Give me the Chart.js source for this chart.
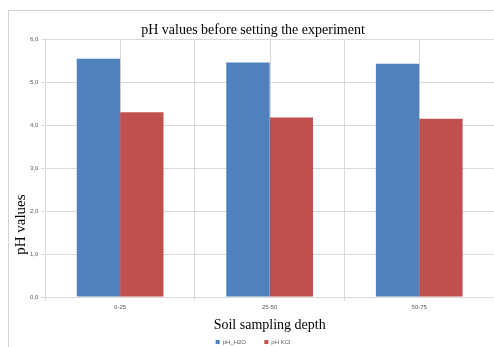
<!DOCTYPE html>
<html>
<head>
<meta charset="utf-8">
<script src="https://cdn.jsdelivr.net/npm/chart.js@4"></script>
<style>
    html, body { margin: 0; padding: 0; background: #fff; }
    #wrap { position: relative; width: 494px; height: 347px; }
    #frame { position: absolute; left: 8px; top: 10px; right: -2px; bottom: -2px;
             border-left: 1px solid #d4d4d4; border-top: 1px solid #d4d4d4; }
    canvas { position: absolute; left: 0; top: 0; }
</style>
</head>
<body>
<div id="wrap">
    <div id="frame"></div>
    <canvas id="phChart" width="494" height="347"></canvas>
</div>
<script>
// Chart data
const depths = ["0-25", "25-50", "50-75"];
const phH2O = [5.56, 5.47, 5.44];
const phKCl = [4.31, 4.19, 4.16];
const yTicks = [0, 1, 2, 3, 4, 5, 6];

const gridColor = "#d9d9d9";
const tickColor = "#595959";

// extra vertical gridlines through the middle of each category (behind the bars)
const centreLines = {
    id: "centreLines",
    beforeDatasetsDraw(chart) {
        const { ctx, chartArea, scales } = chart;
        ctx.save();
        ctx.strokeStyle = gridColor;
        ctx.lineWidth = 1;
        depths.forEach((d, i) => {
            const x = Math.round(scales.x.getPixelForValue(i)) + 0.5;
            ctx.beginPath();
            ctx.moveTo(x, chartArea.top);
            ctx.lineTo(x, chartArea.bottom);
            ctx.stroke();
        });
        ctx.restore();
    },
};

const ctx = document.getElementById("phChart").getContext("2d");
new Chart(ctx, {
    type: "bar",
    data: {
        labels: depths,
        datasets: [
            { label: "pH_H2O", data: phH2O, backgroundColor: "#4F81BD" },
            { label: "pH KCl", data: phKCl, backgroundColor: "#C0504D" },
        ],
    },
    plugins: [centreLines],
    options: {
        responsive: false,
        animation: false,
        layout: { padding: { left: 12, right: 0, top: 22, bottom: -8 } },
        datasets: { bar: { categoryPercentage: 0.58, barPercentage: 1 } },
        plugins: {
            title: {
                display: true,
                text: "pH values before setting the experiment",
                color: "#000",
                font: { family: "Liberation Serif", size: 14, weight: "normal" },
                padding: { top: 0, bottom: 1 },
            },
            legend: {
                position: "bottom",
                labels: {
                    boxWidth: 4,
                    boxHeight: 4,
                    padding: 5,
                    color: tickColor,
                    font: { family: "Liberation Sans", size: 6 },
                    // wider gap between the two entries, as in the original
                    generateLabels: (chart) => {
                        const items = Chart.defaults.plugins.legend.labels.generateLabels(chart);
                        items.forEach((it, i) => {
                            if (i < items.length - 1) it.text += "        ";
                        });
                        return items;
                    },
                },
            },
            tooltip: { enabled: false },
        },
        scales: {
            x: {
                grid: { color: gridColor, offset: true, tickLength: 4 },
                border: { color: gridColor },
                ticks: { color: tickColor, font: { family: "Liberation Sans", size: 6 }, padding: 3 },
                title: {
                    display: true,
                    text: "Soil sampling depth",
                    color: "#000",
                    font: { family: "Liberation Serif", size: 14 },
                    padding: { top: 3, bottom: 0 },
                },
            },
            y: {
                min: 0,
                max: 6,
                afterBuildTicks: (axis) => {
                    axis.ticks = yTicks.map((v) => ({ value: v }));
                },
                grid: { color: gridColor, tickLength: 4 },
                border: { color: gridColor },
                ticks: {
                    color: tickColor,
                    font: { family: "Liberation Sans", size: 6 },
                    padding: 3,
                    callback: (v) => v.toFixed(1).replace(".", ","),
                },
                title: {
                    display: true,
                    text: "pH values                              ",
                    color: "#000",
                    font: { family: "Liberation Serif", size: 15 },
                    padding: { top: 0, bottom: -3 },
                },
            },
        },
    },
});
</script>
</body>
</html>
